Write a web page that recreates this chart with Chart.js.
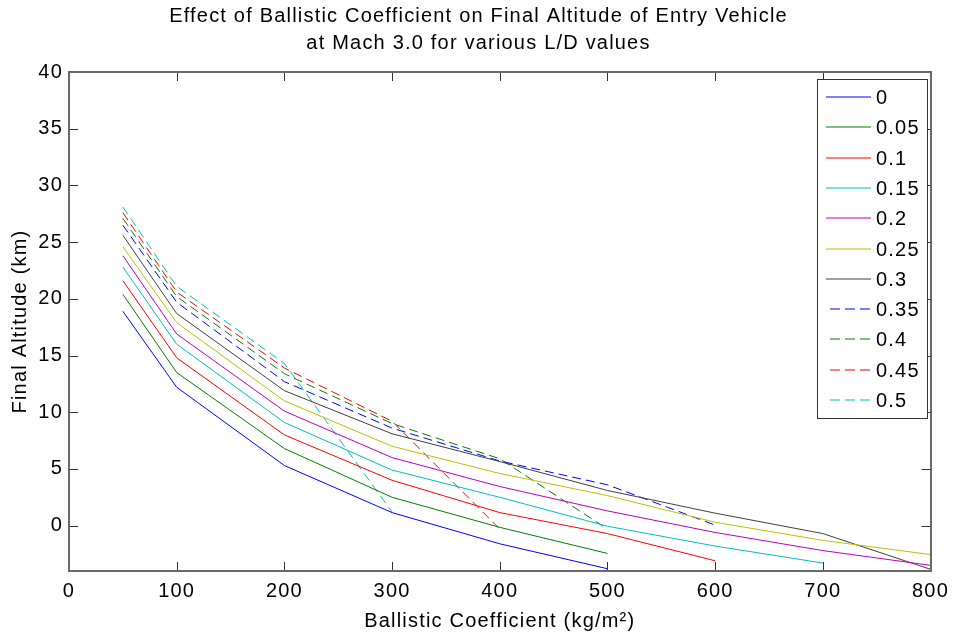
<!DOCTYPE html>
<html>
<head>
<meta charset="utf-8">
<script src="https://cdn.jsdelivr.net/npm/chart.js@4.4.0/dist/chart.umd.min.js"></script>
<style>
  body { margin: 0; background: #fff; }
  #wrap { width: 957px; height: 636px; }
</style>
</head>
<body>
<div id="wrap"><canvas id="altChart" width="957" height="636"></canvas></div>
<script>
// ballistic coefficient (kg/m^2)
var beta = [50, 100, 200, 300, 400, 500, 600, 700, 800];
var ldLabels = ['0', '0.05', '0.1', '0.15', '0.2', '0.25', '0.3', '0.35', '0.4', '0.45', '0.5'];

// final altitude (km) for each L/D
var alt_00  = [18.9, 12.2, 5.3, 1.15, -1.6, -3.8];
var alt_005 = [20.4, 13.5, 6.8, 2.5, -0.15, -2.45];
var alt_010 = [21.6, 14.8, 8.0, 4.0, 1.15, -0.7, -3.1];
var alt_015 = [22.8, 16.0, 9.1, 4.9, 2.5, -0.05, -1.8, -3.3];
var alt_020 = [23.8, 16.9, 10.1, 6.0, 3.45, 1.3, -0.6, -2.2, -3.5];
var alt_025 = [24.6, 17.9, 11.0, 7.0, 4.6, 2.65, 0.3, -1.3, -2.55];
var alt_030 = [25.6, 18.7, 11.9, 8.1, 5.65, 3.1, 1.1, -0.7, -3.85];
var alt_035 = [26.5, 19.7, 12.7, 8.6, 5.7, 3.6, 0.05];
var alt_040 = [27.1, 20.2, 13.4, 9.0, 5.9, -0.3];
var alt_045 = [27.6, 20.6, 13.9, 9.2, -0.3];
var alt_050 = [28.1, 21.1, 14.3, 1.2];

var allSeries = [alt_00, alt_005, alt_010, alt_015, alt_020, alt_025, alt_030,
                 alt_035, alt_040, alt_045, alt_050];
var lineColors = ['#0000ff', '#008000', '#ff0000', '#00bfbf', '#bf00bf', '#bfbf00', '#404040',
                  '#0000ff', '#008000', '#ff0000', '#00bfbf'];

var FONT = '"Liberation Sans", Arial, Helvetica, sans-serif';

var datasets = allSeries.map(function(s, i){
    return {
        label: ldLabels[i],
        data: s.map(function(v, k){ return {x: beta[k], y: v}; }),
        borderColor: lineColors[i],
        backgroundColor: lineColors[i],
        borderWidth: 1,
        borderDash: i >= 7 ? [9, 5] : [],
        pointRadius: 0,
        tension: 0,
        fill: false
    };
});

// matlab text looks a bit wider than arial
var spacingPlugin = {
    id: 'spacingPlugin',
    beforeUpdate: function(chart){ chart.ctx.letterSpacing = '1.2px'; },
    beforeDraw: function(chart){ chart.ctx.letterSpacing = '1.2px'; }
};

// matlab style box, inward ticks and legend inside the axes
var boxPlugin = {
    id: 'boxPlugin',
    afterDraw: function(chart){
        var ctx = chart.ctx;
        var a = chart.chartArea;
        var xs = chart.scales.x, ys = chart.scales.y;
        var tl = 9;
        ctx.save();
        ctx.strokeStyle = '#333';
        ctx.lineWidth = 1;
        ctx.beginPath();
        xs.ticks.forEach(function(t){
            var px = Math.round(xs.getPixelForValue(t.value)) + 0.5;
            ctx.moveTo(px, a.bottom); ctx.lineTo(px, a.bottom - tl);
            ctx.moveTo(px, a.top); ctx.lineTo(px, a.top + tl);
        });
        ys.ticks.forEach(function(t){
            var py = Math.round(ys.getPixelForValue(t.value)) + 0.5;
            ctx.moveTo(a.left, py); ctx.lineTo(a.left + tl, py);
            ctx.moveTo(a.right, py); ctx.lineTo(a.right - tl, py);
        });
        ctx.stroke();
        ctx.strokeStyle = '#6a6a6a';
        ctx.lineWidth = 2;
        ctx.strokeRect(Math.round(a.left), Math.round(a.top),
                       Math.round(a.right - a.left), Math.round(a.bottom - a.top));

        // legend
        var lx = 817, ly = 79, lw = 110, lh = 339;
        ctx.fillStyle = '#fff';
        ctx.fillRect(lx, ly, lw, lh);
        ctx.strokeStyle = '#333';
        ctx.lineWidth = 1;
        ctx.strokeRect(lx + 0.5, ly + 0.5, lw, lh);
        ctx.font = '20px ' + FONT;
        ctx.textBaseline = 'middle';
        ctx.textAlign = 'left';
        chart.data.datasets.forEach(function(ds, i){
            var cy = Math.round(97 + i * 30.3);
            ctx.strokeStyle = ds.borderColor;
            ctx.lineWidth = 1.2;
            ctx.setLineDash(ds.borderDash.length ? [10, 5] : []);
            ctx.lineDashOffset = ds.borderDash.length ? 11 : 0;
            ctx.beginPath();
            ctx.moveTo(826, cy); ctx.lineTo(871, cy);
            ctx.stroke();
            ctx.setLineDash([]);
            ctx.fillStyle = '#000';
            ctx.fillText(ds.label, 876, cy + 1);
        });
        ctx.restore();
    }
};

var altChart = new Chart(document.getElementById('altChart'), {
    type: 'line',
    data: { datasets: datasets },
    plugins: [spacingPlugin, boxPlugin],
    options: {
        responsive: false,
        animation: false,
        layout: { padding: 0 },
        plugins: {
            legend: { display: false },
            tooltip: { enabled: false },
            title: {
                display: true,
                text: ['Effect of Ballistic Coefficient on Final Altitude of Entry Vehicle',
                       'at Mach 3.0 for various L/D values'],
                color: '#000',
                font: { family: FONT, size: 20, weight: 'normal', lineHeight: 1.35 },
                padding: { top: 3, bottom: 15 }
            }
        },
        scales: {
            x: {
                type: 'linear',
                min: 0, max: 800,
                grid: { display: false, drawTicks: false },
                border: { display: false },
                ticks: { stepSize: 100, color: '#000', padding: 8, maxRotation: 0,
                         font: { family: FONT, size: 20 } },
                title: { display: true, text: 'Ballistic Coefficient (kg/m²)', color: '#000',
                         font: { family: FONT, size: 20 }, padding: { top: 0, bottom: 3 } },
                afterFit: function(s){ s.height = 65; }
            },
            y: {
                type: 'linear',
                min: -4, max: 40,
                grid: { display: false, drawTicks: false },
                border: { display: false },
                ticks: { stepSize: 5, color: '#000', padding: 6,
                         font: { family: FONT, size: 20 } },
                afterBuildTicks: function(s){
                    s.ticks = s.ticks.filter(function(t){ return t.value >= 0; });
                },
                title: { display: true, text: 'Final Altitude (km)', color: '#000',
                         font: { family: FONT, size: 20 }, padding: { top: 8, bottom: 0 } },
                afterFit: function(s){ s.width = 69; }
            },
            // empty right-hand axis, only keeps the margin on the right
            yRight: {
                type: 'linear',
                position: 'right',
                min: -4, max: 40,
                grid: { display: false, drawTicks: false },
                border: { display: false },
                ticks: { display: false },
                afterFit: function(s){ s.width = 26; }
            }
        }
    }
});
</script>
</body>
</html>
